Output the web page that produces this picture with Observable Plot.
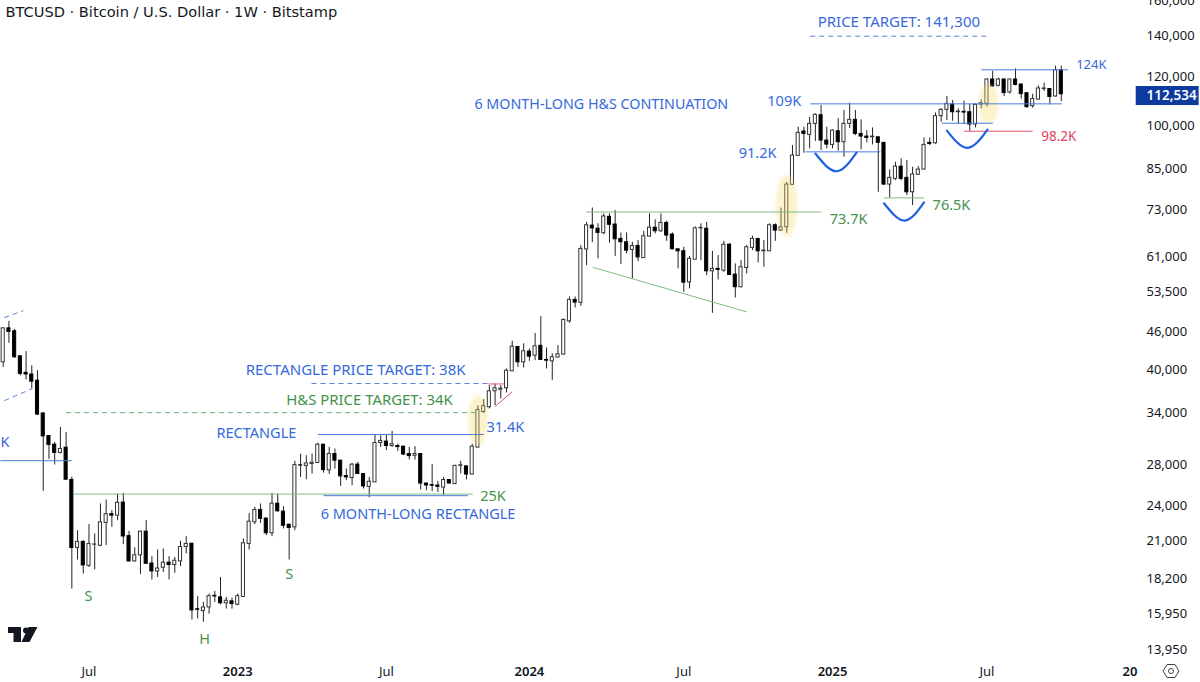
<!DOCTYPE html>
<html>
<head>
<meta charset="utf-8">
<style>
html,body{margin:0;padding:0;background:#fff;overflow:hidden}
#wrap{position:relative;width:1200px;height:682px}
#wrap svg.plot{display:block}
#logo,#gear{position:absolute}
</style>
<script src="https://cdn.jsdelivr.net/npm/d3@7"></script>
<script src="https://cdn.jsdelivr.net/npm/@observablehq/plot@0.6"></script>
</head>
<body>
<div id="wrap"></div>
<script>
const firstWeek = Date.UTC(2022, 2, 21);
const title = "BTCUSD · Bitcoin / U.S. Dollar · 1W · Bitstamp";
const lastPrice = 112534;

const opens = [41090,46690,46170,42030,39490,39250,38350,33900,31140,30150,29230,29810,26400,20450,20920,19120,20700,20620,22470,23220,23090,24250,21380,19440,19890,21740,19290,18720,18980,19350,19180,19440,20520,20780,16240,16130,16350,17080,16980,16610,16730,16520,17010,20760,22520,23590,22840,21610,24150,23440,22320,22100,27900,27840,28040,28150,30150,27370,29110,28390,26790,26600,27970,27000,25730,26160,30340,30500,30000,30000,29920,29110,28920,29110,26050,25900,25860,25660,26400,26000,27840,27790,26950,29820,34090,34710,36850,37060,37270,39720,43530,41090,42780,42130,43720,41460,41240,41830,42300,47930,51950,51380,62800,68690,67890,66760,71000,68960,65340,64520,62700,63620,60800,65910,68150,67250,69390,66420,62840,62370,55500,60440,67970,67890,57850,58380,58000,63950,57130,54490,58580,63170,65340,62370,62370,68780,67420,68280,80080,89270,97820,96620,100700,104010,94570,93040,97940,93970,100700,102220,96970,96000,95740,95740,93760,80150,81900,85740,82190,77860,83150,84800,93760,93610,103630,106140,108290,105190,105340,105190,100430,108290,108580,118960,116160,118960,113320,118960,116740,112990,107620,110290,114770,114770,111590,123180];
const highs = [46690,47930,46500,42120,42780,40570,39820,34000,31200,30410,32170,31580,26680,21820,21000,22320,21560,24130,24480,23530,25050,25100,21760,20460,21780,22660,19790,20290,20370,19790,19730,20970,21340,20800,17040,16670,17200,17370,18300,16980,16940,17200,21160,23270,23830,24130,22860,25100,25050,23880,22330,28320,29090,28920,29110,30300,30170,29850,29670,28420,27510,28100,28210,27020,26660,31300,31180,31300,31700,30200,30000,29850,29920,29120,26080,27970,26260,26660,26410,27900,28320,27800,30200,34910,35710,37640,37880,37640,40080,44470,43560,44050,43210,45780,48780,43370,42410,43760,48370,52530,52530,63720,69560,73400,69150,71800,71800,72680,66840,66840,64520,64930,67250,71800,70180,71800,69820,66840,62860,63320,61190,68380,69150,69560,62370,61370,64760,64130,59470,60220,63720,66000,65360,64930,69150,69150,73400,80810,92800,99420,99420,103190,104560,107860,99420,98440,102650,105860,108820,105860,102220,98190,99180,95760,93800,84700,87160,88290,87720,85530,85740,95510,95510,104920,106540,111580,109920,106540,109630,108290,108560,110200,119280,122730,119610,119280,118990,123830,116900,113000,112600,116160,117340,114900,125080,125080];
const lows = [40310,44130,41700,39060,38460,37180,33630,25300,28530,27930,29110,26400,17520,19540,18540,19000,18830,20550,20630,22100,22660,20700,19400,19400,18500,19230,18130,18300,18650,18130,18590,19070,20000,15600,15660,15460,15950,16670,16520,16250,16250,16460,16990,20290,22320,22430,21420,21340,23390,21960,19540,21820,26660,26430,27000,28130,27090,26950,27510,25770,26330,25840,26950,25520,24700,26140,29850,29480,29850,29400,28940,28460,28460,25430,25360,25270,25200,24900,26000,25940,27000,26400,26930,29800,33900,34480,34910,35810,36620,39700,40310,40230,41240,41350,41350,40080,38350,41820,42200,47580,50400,50710,59090,64430,60620,66380,64290,61190,59360,61760,56220,60000,60780,65750,66580,67000,64760,62700,58380,53460,54150,60400,60220,56930,49400,56010,57640,56930,52350,54350,57280,62530,59700,58730,62350,64760,67250,66760,80060,89250,90160,91660,94220,91080,91660,91660,90850,88820,99000,96360,91320,93760,93040,77860,79850,76230,81360,81360,76900,74060,83000,84700,92800,93270,101300,101950,101680,100430,100430,97940,99180,106540,107220,115550,115760,111590,112600,116160,110550,106820,106820,110200,113700,108150,111400,109510];
const closes = [46690,46060,41880,39340,39250,38210,33760,31100,30120,29230,29670,26430,20450,20920,19150,20760,20720,22520,23220,23090,24230,21350,19440,19890,21740,19270,18720,18930,19350,19180,19490,20520,20760,16170,16210,16350,17060,17040,16610,16770,16560,17060,20810,22570,23590,22810,21610,24150,23470,22230,22050,27920,27880,28100,28180,30150,27410,29110,28390,26760,26660,27970,27000,25770,26230,30340,30580,30000,30200,29880,29050,28880,29110,26050,25860,25840,25730,26400,26050,27840,27900,26950,29920,34350,34850,36850,37270,37230,39820,43590,41090,42830,41980,43640,41460,41350,41880,42350,48190,51950,51430,62930,68780,67970,66840,71100,68900,65250,64520,62530,63620,60950,66000,68150,67250,69390,66170,62840,62370,55440,60620,67970,68100,57850,58380,58150,63930,57060,54490,58730,63320,65340,62370,62530,68780,67420,68280,80150,89400,97340,96970,100690,104160,94570,93150,98190,93970,100700,102220,96970,96000,95510,96000,93760,80150,82190,85740,81900,77860,83250,84800,93040,93400,103630,106140,108560,105190,105470,105070,100430,108150,108820,118960,115930,118960,113030,118960,116580,112600,107220,110550,115030,115000,111400,123180,112534];

const priceTicks = [160000,140000,120000,100000,85000,73000,61000,53500,46000,40000,34000,28000,24000,21000,18200,15950,13950];
const monthTicks = ["2022-07-04","2023-07-03","2024-07-01","2025-07-07"];
const yearTicks = ["2023-01-02","2023-12-25","2024-12-30","2025-12-29"];
const yearLabels = ["2023","2024","2025","20"];

// annotation lines: [from week, from price, to week, to price]
const blueLines = [[-0.5,28390,12,28390],[56,24890,81.3,24890],[55,31330,84,31330],[141.1,108560,185.1,108560],[140.3,90640,153.4,90640],[164.1,100930,173,100930],[171,123370,186.2,123370]];
const greenLines = [[12.3,25040,82.1,25040],[102,72300,143,72300],[103.1,58730,130,49660],[154,76240,161,76240]];
const redLines = [[84.8,37880,87.5,37880],[86,34800,89,36800],[168,97940,180,97940]];
const blueDashed = [[0.2,48610,3.55,49900],[0.2,35580,5.1,37220],[53.9,37950,85,37950],[141.1,140000,172.1,140000]];
const greenDashed = [[11,34010,83,34010]];

// cup arcs: [week, price] triples
const arcs = [[[142,90060],[145.7,84260],[149.2,90400]],[[154,74700],[157.6,70000],[161,74980]],[[165,98190],[168.6,92000],[172.1,98560]]];

// highlighted breakout candles: [week, price]
const glows = [[83,33000],[137,74000],[172.3,108500]];

// texts: [text, week, price]
const blueTexts = [["109K",133.6,109510],["91.2K",128.6,90060],["RECTANGLE",37.3,31420],["31.4K",84.5,32150],["6 MONTH-LONG RECTANGLE",55.5,23190],["K",-0.47,30380]];
const wideBlueTexts = [["PRICE TARGET: 141,300",142.4,147380],["RECTANGLE PRICE TARGET: 38K",42.4,39820]];
const narrowBlueTexts = [["6 MONTH-LONG H&S CONTINUATION",82.4,108290]];
const smallBlueTexts = [["124K",187.6,125900]];
const greenTexts = [["73.7K",144.5,70260],["76.5K",162.5,74060],["25K",83.4,24800]];
const wideGreenTexts = [["H&S PRICE TARGET: 34K",49.5,35580]];
const redTexts = [["98.2K",181.5,96000]];
const patternTexts = [["S",14.9,17040],["S",50,18490],["H",35.2,14500]];

const BLUE = "#3569dc", GREEN = "#44934c", RED = "#e0435c", FONT = "Noto Sans";
const wk = w => new Date(firstWeek + w * 7 * 864e5);
const candles = opens.map((o, i) => ({w: i, date: wk(i), open: o, high: highs[i], low: lows[i], close: closes[i]}));
const seg = a => a.map(([a1, p1, a2, p2]) => ({x1: wk(a1), y1: p1, x2: wk(a2), y2: p2}));
const txt = a => a.map(([t, w, p]) => ({t, x: wk(w), y: p}));
const arcPts = arcs.flatMap((a, k) => a.map(([w, p]) => ({k, x: wk(w), y: p})));
const glowPts = glows.map(([w, p], k) => ({x: wk(w), y: p, k}));
const links = (a, stroke, extra = {}) => Plot.link(seg(a), {x1: "x1", y1: "y1", x2: "x2", y2: "y2", stroke, strokeWidth: 1, ...extra});
const labels = (a, fill, extra = {}) => Plot.text(txt(a), {x: "x", y: "y", text: "t", fill, textAnchor: "start", fontSize: 14.5, ...extra});
const ellipse = aspect => ({draw(c, size) {
  const r = Math.sqrt(size / Math.PI), rx = r / aspect, ry = r, k = 0.5523;
  c.moveTo(rx, 0);
  c.bezierCurveTo(rx, k * ry, k * rx, ry, 0, ry);
  c.bezierCurveTo(-k * rx, ry, -rx, k * ry, -rx, 0);
  c.bezierCurveTo(-rx, -k * ry, -k * rx, -ry, 0, -ry);
  c.bezierCurveTo(k * rx, -ry, rx, -k * ry, rx, 0);
  c.closePath();
}});
const glow = (k, r, aspect) => Plot.dot([glowPts[k]], {x: "x", y: "y", r, symbol: ellipse(aspect), fill: "#f5dc6e", fillOpacity: 0.35, imageFilter: "blur(1.5px)"});

const chart = Plot.plot({
  width: 1200, height: 682,
  marginLeft: 0, marginRight: 66, marginTop: 0, marginBottom: 20,
  style: {fontFamily: FONT, background: "#fff", color: "#131722"},
  x: {type: "utc", domain: [wk(-0.472), wk(197.8)], label: null},
  y: {type: "log", domain: [13295, 160100], label: null},
  marks: [
    Plot.ruleX(candles, {x: "date", y1: "low", y2: "high", stroke: "#222", strokeWidth: 1}),
    Plot.rect(candles, {
      x1: d => wk(d.w - 0.27), x2: d => wk(d.w + 0.27),
      y1: "open", y2: "close",
      fill: d => d.close >= d.open ? "#fff" : "#000",
      stroke: d => d.close >= d.open ? "#333" : "#000", strokeWidth: 1
    }),
    glow(0, 25, 2.5), glow(1, 31, 2.9), glow(2, 20, 2),
    links(greenLines, "#7fbc84"),
    links(blueLines, "#4a7ce0"),
    links(redLines, "#e4566c"),
    links(blueDashed, "#5a7fd6", {strokeDasharray: "5,4"}),
    links(greenDashed, "#6fae76", {strokeDasharray: "5,4"}),
    Plot.line(arcPts, {x: "x", y: "y", z: "k", curve: "natural", stroke: "#1f60e0", strokeWidth: 2.2}),
    labels(blueTexts, BLUE),
    labels(wideBlueTexts, BLUE, {fontSize: 15}),
    labels(narrowBlueTexts, BLUE, {fontSize: 14.3}),
    labels(smallBlueTexts, BLUE, {fontSize: 13}),
    labels(greenTexts, GREEN),
    labels(wideGreenTexts, GREEN, {fontSize: 14.9}),
    labels(redTexts, RED, {fontSize: 13.5}),
    Plot.text(txt(patternTexts), {x: "x", y: "y", text: "t", fill: GREEN, fontSize: 14.5}),
    Plot.text([title], {frameAnchor: "top-left", dx: 5, dy: 6, fontSize: 14.6, fontFamily: "DejaVu Sans", fill: "#131722", lineAnchor: "top"}),
    Plot.axisY({anchor: "right", ticks: priceTicks, tickFormat: d3.format(","), tickSize: 0, tickPadding: 12, fontSize: 13, label: null}),
    Plot.axisX({anchor: "bottom", ticks: monthTicks.map(d => new Date(d)), tickFormat: () => "Jul", tickSize: 0, tickPadding: 4, fontSize: 13, label: null}),
    Plot.axisX({anchor: "bottom", ticks: yearTicks.map(d => new Date(d)), tickFormat: (d, i) => yearLabels[i], tickSize: 0, tickPadding: 4, fontSize: 13, fontWeight: 600, label: null}),
    Plot.rect([0], {x1: () => wk(198.1), x2: () => wk(209.1), y1: () => 107870, y2: () => 115870, fill: "#0d3a9e"}),
    Plot.text([lastPrice], {x: () => wk(199.9), y: d => d, text: d3.format(","), fill: "#fff", textAnchor: "start", fontSize: 13.5, fontWeight: 600, dy: 1.5})
  ]
});
const wrap = document.getElementById("wrap");
wrap.appendChild(chart);
wrap.insertAdjacentHTML("beforeend", `
<svg id="logo" style="left:8px;top:626px" width="30" height="17" viewBox="0 0 30 17"><path d="M0 1h13v15H5.5V7H0z M21 4.5a3 3 0 1 1-6 0a3 3 0 0 1 6 0z M20.5 1H29.5L21.500 16H13.5z" fill="#131722"/></svg>
<svg id="gear" style="left:1162px;top:662px" width="18" height="18" viewBox="0 0 18 18"><path d="M5 2.500h8L17 9l-4 6.500H5L1 9z" fill="none" stroke="#444" stroke-width="1"/><circle cx="9" cy="9" r="2.500" fill="none" stroke="#444" stroke-width="1"/></svg>`);
</script>
</body>
</html>
